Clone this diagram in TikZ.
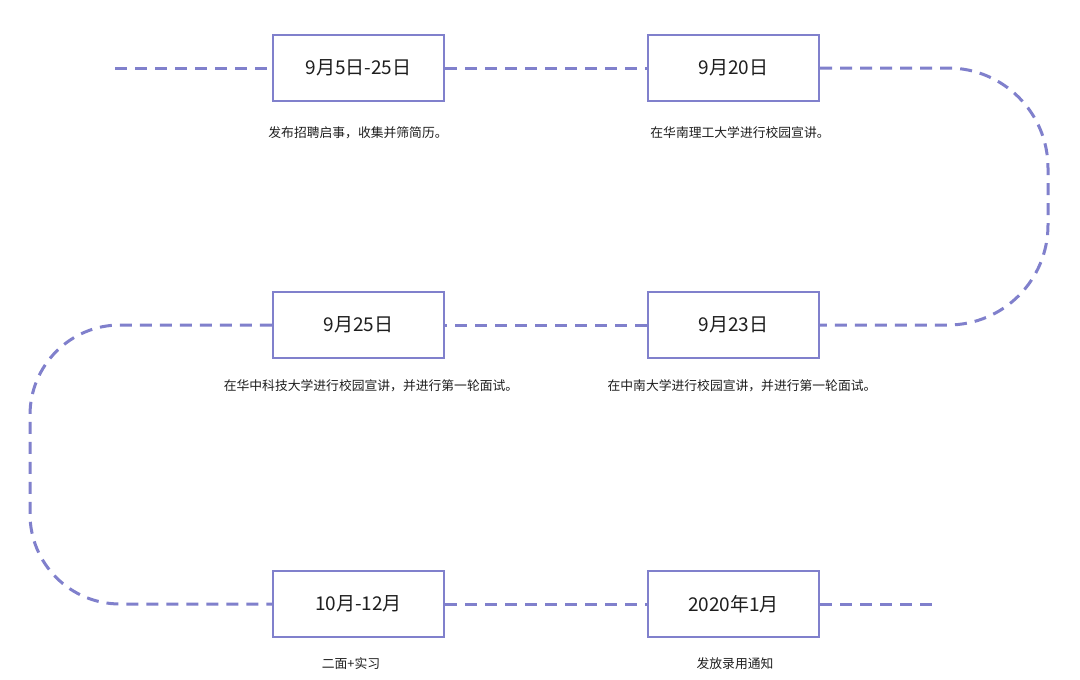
\documentclass[tikz,border=0pt]{standalone}
\usepackage{fontspec}
\setmainfont{Noto Sans CJK SC}
\definecolor{lc}{RGB}{128,128,204}
\definecolor{tc}{RGB}{30,30,30}
\begin{document}
\begin{tikzpicture}[x=1pt,y=-1pt,
  datebox/.style={draw=lc,line width=2.4pt,fill=white,minimum width=171pt,minimum height=66pt,inner sep=0pt,font=\fontsize{19}{22}\selectfont,text=tc},
  caption/.style={font=\fontsize{12.8}{15}\selectfont,text=tc,inner sep=0pt},
  conn/.style={draw=lc,line width=3pt,dash pattern=on 12pt off 8pt}]
\useasboundingbox (0,0) rectangle (1080,680);
\fill[white] (0,0) rectangle (1080,680);
\coordinate (s) at (115,68);
\coordinate (e) at (937,604);
\node[datebox] (b1) at (358.5,68) {9月5日-25日};
\node[datebox] (b2) at (733.5,68) {9月20日};
\node[datebox] (b4) at (733.5,325) {9月23日};
\node[datebox] (b3) at (358.5,325) {9月25日};
\node[datebox] (b5) at (358.5,604) {10月-12月};
\node[datebox] (b6) at (733.5,604) {2020年1月};
\draw[conn] (s) -- (b1.west);
\draw[conn] (b1.east) -- (b2.west);
\draw[conn,rounded corners=100pt] (b2.east) -- (1048,68) -- (1048,325) -- (b4.east);
\draw[conn] (b4.west) -- (b3.east);
\draw[conn,rounded corners=90pt] (b3.west) -- (30,325) -- (30,604) -- (b5.west);
\draw[conn] (b5.east) -- (b6.west);
\draw[conn] (b6.east) -- (e);
\node[caption] (c1) at (358,133) {发布招聘启事，收集并筛简历。};
\node[caption] (c2) at (740,133) {在华南理工大学进行校园宣讲。};
\node[caption] (c3) at (371,386) {在华中科技大学进行校园宣讲，并进行第一轮面试。};
\node[caption] (c4) at (742,386) {在中南大学进行校园宣讲，并进行第一轮面试。};
\node[caption] (c5) at (351,664) {二面+实习};
\node[caption] (c6) at (735,664) {发放录用通知};
\end{tikzpicture}
\end{document}
